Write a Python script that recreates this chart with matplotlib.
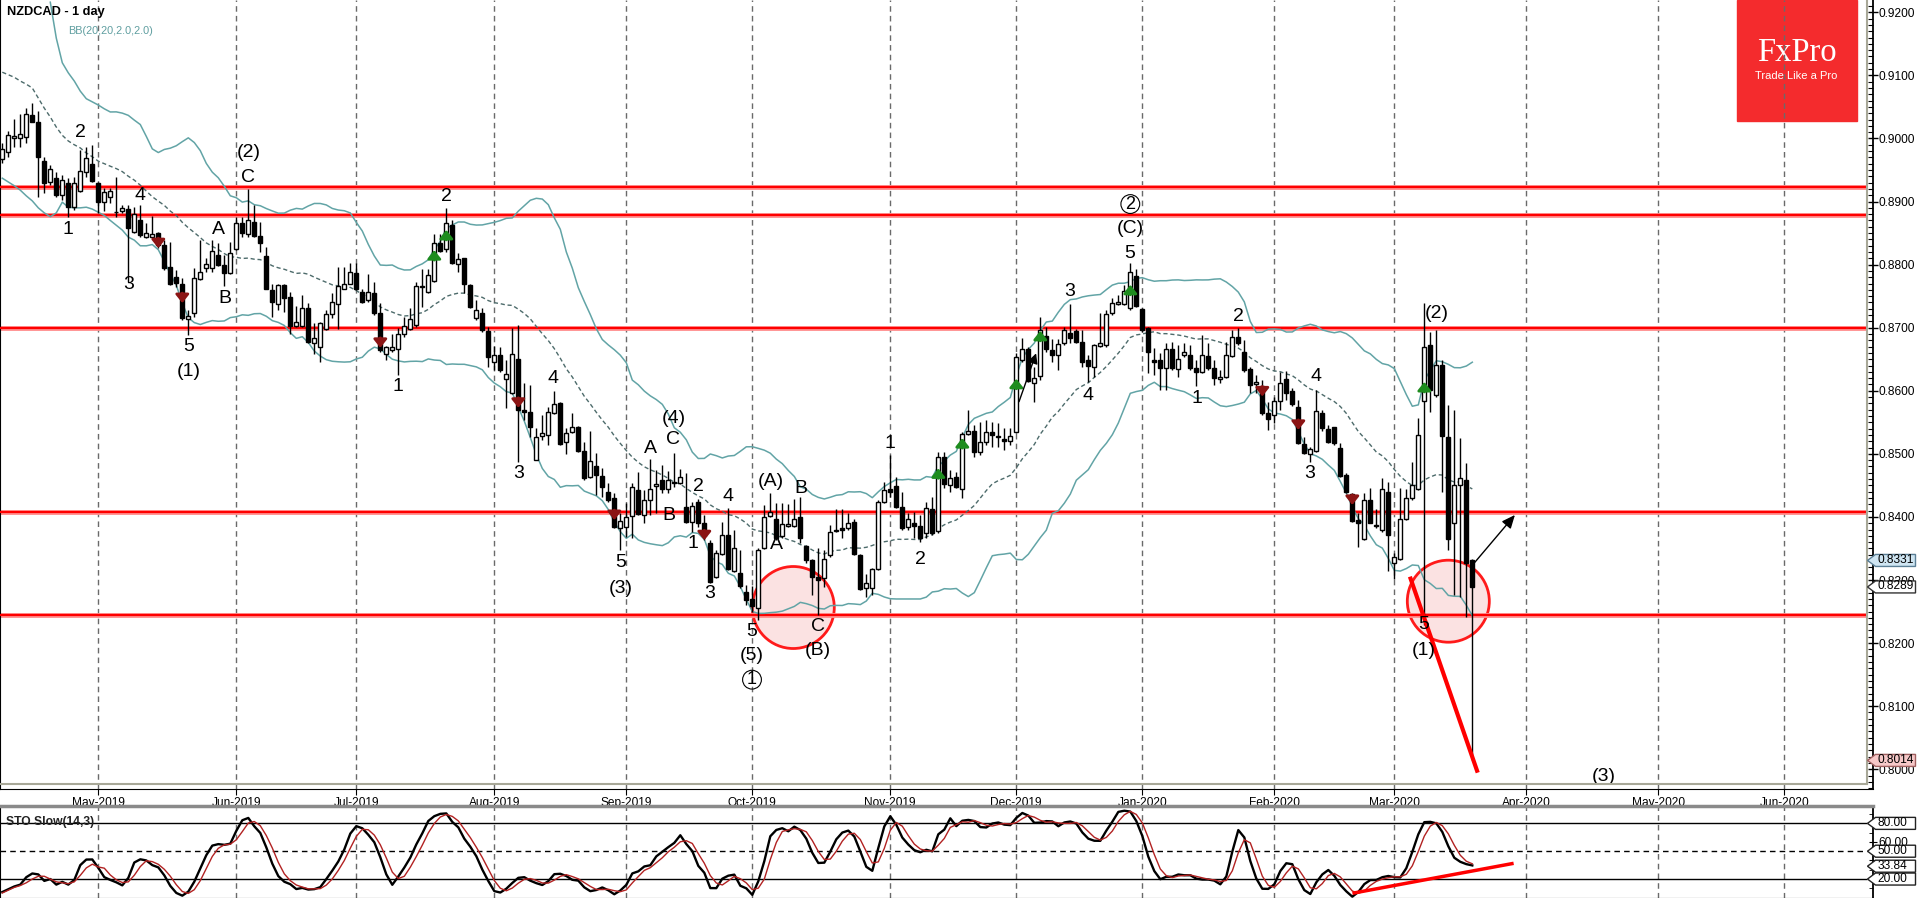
import numpy as np
import pandas as pd
import matplotlib
matplotlib.use('Agg')
import matplotlib.pyplot as plt
from matplotlib.patches import Rectangle, Ellipse, Polygon

plt.rcParams['font.family'] = ['Liberation Sans', 'DejaVu Sans']

# ---------------- data (NZDCAD daily, 9 Apr 2019 - 19 Mar 2020) ----------------
opens = [0.8967, 0.8978, 0.9001, 0.9001, 0.9003, 0.9037, 0.9026, 0.8964, 0.8931, 0.8938,
         0.8910, 0.8930, 0.8891, 0.8916, 0.8947, 0.8960, 0.8929, 0.8899, 0.8907, 0.8884,
         0.8885, 0.8888, 0.8851, 0.8871, 0.8844, 0.8844, 0.8850, 0.8831, 0.8797, 0.8781,
         0.8770, 0.8713, 0.8723, 0.8777, 0.8794, 0.8794, 0.8815, 0.8799, 0.8786, 0.8824,
         0.8866, 0.8849, 0.8868, 0.8845, 0.8814, 0.8760, 0.8738, 0.8767, 0.8748, 0.8702,
         0.8702, 0.8732, 0.8675, 0.8670, 0.8698, 0.8721, 0.8738, 0.8762, 0.8770, 0.8786,
         0.8756, 0.8744, 0.8755, 0.8724, 0.8658, 0.8664, 0.8666, 0.8690, 0.8698, 0.8704,
         0.8764, 0.8757, 0.8774, 0.8834, 0.8824, 0.8863, 0.8801, 0.8810, 0.8768, 0.8716,
         0.8724, 0.8695, 0.8645, 0.8657, 0.8619, 0.8596, 0.8651, 0.8570, 0.8567, 0.8491,
         0.8528, 0.8530, 0.8564, 0.8580, 0.8519, 0.8535, 0.8542, 0.8505, 0.8464, 0.8480,
         0.8465, 0.8439, 0.8430, 0.8382, 0.8384, 0.8401, 0.8443, 0.8403, 0.8427, 0.8449,
         0.8459, 0.8445, 0.8455, 0.8454, 0.8415, 0.8392, 0.8423, 0.8390, 0.8358, 0.8305,
         0.8342, 0.8371, 0.8315, 0.8311, 0.8281, 0.8270, 0.8255, 0.8350, 0.8401, 0.8396,
         0.8369, 0.8386, 0.8385, 0.8400, 0.8354, 0.8332, 0.8304, 0.8303, 0.8339, 0.8378,
         0.8382, 0.8382, 0.8392, 0.8340, 0.8288, 0.8288, 0.8317, 0.8423, 0.8445, 0.8449,
         0.8416, 0.8384, 0.8390, 0.8385, 0.8374, 0.8412, 0.8377, 0.8495, 0.8450, 0.8463,
         0.8445, 0.8531, 0.8536, 0.8503, 0.8519, 0.8534, 0.8529, 0.8524, 0.8521, 0.8534,
         0.8648, 0.8667, 0.8613, 0.8624, 0.8687, 0.8665, 0.8656, 0.8675, 0.8691, 0.8695,
         0.8677, 0.8649, 0.8638, 0.8671, 0.8673, 0.8723, 0.8738, 0.8738, 0.8731, 0.8782,
         0.8729, 0.8699, 0.8649, 0.8649, 0.8636, 0.8667, 0.8634, 0.8657, 0.8657, 0.8636,
         0.8629, 0.8655, 0.8636, 0.8619, 0.8622, 0.8655, 0.8685, 0.8662, 0.8635, 0.8611,
         0.8608, 0.8564, 0.8562, 0.8583, 0.8618, 0.8600, 0.8575, 0.8516, 0.8500, 0.8505,
         0.8564, 0.8539, 0.8542, 0.8509, 0.8467, 0.8436, 0.8395, 0.8365, 0.8427, 0.8387,
         0.8379, 0.8440, 0.8327, 0.8334, 0.8396, 0.8430, 0.8445, 0.8584, 0.8673, 0.8593,
         0.8641, 0.8527, 0.8391, 0.8451, 0.8459, 0.8331]
highs = [0.8993, 0.9012, 0.9031, 0.9039, 0.9048, 0.9056, 0.9044, 0.8971, 0.8958, 0.8947,
         0.8942, 0.8937, 0.8939, 0.8982, 0.8986, 0.8990, 0.8931, 0.8921, 0.8921, 0.8939,
         0.8895, 0.8895, 0.8891, 0.8895, 0.8866, 0.8877, 0.8851, 0.8839, 0.8836, 0.8791,
         0.8779, 0.8728, 0.8795, 0.8839, 0.8810, 0.8839, 0.8834, 0.8815, 0.8836, 0.8876,
         0.8876, 0.8920, 0.8895, 0.8868, 0.8828, 0.8769, 0.8769, 0.8769, 0.8757, 0.8734,
         0.8752, 0.8739, 0.8707, 0.8709, 0.8728, 0.8755, 0.8796, 0.8796, 0.8803, 0.8803,
         0.8761, 0.8785, 0.8772, 0.8739, 0.8671, 0.8690, 0.8700, 0.8717, 0.8731, 0.8772,
         0.8793, 0.8793, 0.8849, 0.8849, 0.8890, 0.8871, 0.8818, 0.8811, 0.8769, 0.8744,
         0.8731, 0.8701, 0.8671, 0.8669, 0.8649, 0.8700, 0.8704, 0.8612, 0.8609, 0.8541,
         0.8562, 0.8574, 0.8600, 0.8582, 0.8541, 0.8565, 0.8544, 0.8519, 0.8536, 0.8501,
         0.8478, 0.8454, 0.8438, 0.8406, 0.8422, 0.8454, 0.8471, 0.8443, 0.8492, 0.8474,
         0.8482, 0.8473, 0.8501, 0.8476, 0.8470, 0.8424, 0.8429, 0.8403, 0.8363, 0.8348,
         0.8392, 0.8414, 0.8379, 0.8348, 0.8292, 0.8290, 0.8351, 0.8419, 0.8438, 0.8422,
         0.8422, 0.8421, 0.8429, 0.8432, 0.8356, 0.8333, 0.8351, 0.8348, 0.8387, 0.8413,
         0.8413, 0.8406, 0.8397, 0.8341, 0.8310, 0.8319, 0.8427, 0.8455, 0.8498, 0.8463,
         0.8440, 0.8406, 0.8408, 0.8403, 0.8424, 0.8432, 0.8503, 0.8503, 0.8474, 0.8471,
         0.8535, 0.8570, 0.8546, 0.8551, 0.8554, 0.8551, 0.8549, 0.8541, 0.8541, 0.8660,
         0.8684, 0.8669, 0.8638, 0.8717, 0.8701, 0.8682, 0.8682, 0.8701, 0.8738, 0.8698,
         0.8696, 0.8657, 0.8674, 0.8723, 0.8728, 0.8747, 0.8752, 0.8768, 0.8803, 0.8793,
         0.8731, 0.8701, 0.8668, 0.8660, 0.8676, 0.8677, 0.8673, 0.8676, 0.8673, 0.8649,
         0.8688, 0.8676, 0.8649, 0.8633, 0.8677, 0.8696, 0.8700, 0.8681, 0.8638, 0.8625,
         0.8617, 0.8582, 0.8590, 0.8630, 0.8631, 0.8604, 0.8585, 0.8527, 0.8511, 0.8601,
         0.8570, 0.8546, 0.8543, 0.8517, 0.8470, 0.8438, 0.8406, 0.8438, 0.8446, 0.8413,
         0.8462, 0.8455, 0.8343, 0.8446, 0.8444, 0.8487, 0.8557, 0.8739, 0.8693, 0.8696,
         0.8649, 0.8577, 0.8570, 0.8525, 0.8486, 0.8333]
lows = [0.8961, 0.8971, 0.8986, 0.8986, 0.8993, 0.9026, 0.8907, 0.8914, 0.8926, 0.8907,
        0.8902, 0.8876, 0.8887, 0.8915, 0.8939, 0.8931, 0.8882, 0.8885, 0.8898, 0.8876,
        0.8882, 0.8772, 0.8850, 0.8844, 0.8842, 0.8844, 0.8826, 0.8791, 0.8768, 0.8764,
        0.8712, 0.8688, 0.8717, 0.8776, 0.8788, 0.8788, 0.8798, 0.8766, 0.8785, 0.8823,
        0.8844, 0.8844, 0.8843, 0.8820, 0.8761, 0.8717, 0.8728, 0.8725, 0.8690, 0.8701,
        0.8701, 0.8676, 0.8658, 0.8646, 0.8696, 0.8715, 0.8698, 0.8761, 0.8769, 0.8760,
        0.8739, 0.8741, 0.8720, 0.8661, 0.8649, 0.8661, 0.8625, 0.8685, 0.8696, 0.8701,
        0.8733, 0.8755, 0.8772, 0.8820, 0.8820, 0.8801, 0.8788, 0.8755, 0.8731, 0.8712,
        0.8693, 0.8638, 0.8633, 0.8630, 0.8573, 0.8595, 0.8487, 0.8554, 0.8527, 0.8490,
        0.8522, 0.8514, 0.8563, 0.8514, 0.8500, 0.8533, 0.8503, 0.8459, 0.8461, 0.8435,
        0.8432, 0.8424, 0.8382, 0.8348, 0.8368, 0.8367, 0.8403, 0.8390, 0.8403, 0.8406,
        0.8438, 0.8438, 0.8447, 0.8452, 0.8390, 0.8376, 0.8384, 0.8363, 0.8295, 0.8303,
        0.8340, 0.8316, 0.8313, 0.8287, 0.8260, 0.8249, 0.8237, 0.8349, 0.8400, 0.8363,
        0.8367, 0.8384, 0.8384, 0.8359, 0.8327, 0.8276, 0.8245, 0.8289, 0.8337, 0.8376,
        0.8367, 0.8379, 0.8340, 0.8284, 0.8273, 0.8276, 0.8316, 0.8422, 0.8432, 0.8414,
        0.8379, 0.8379, 0.8367, 0.8360, 0.8367, 0.8371, 0.8375, 0.8446, 0.8440, 0.8446,
        0.8430, 0.8530, 0.8495, 0.8498, 0.8514, 0.8511, 0.8511, 0.8506, 0.8514, 0.8533,
        0.8646, 0.8614, 0.8582, 0.8617, 0.8661, 0.8646, 0.8633, 0.8673, 0.8676, 0.8676,
        0.8638, 0.8614, 0.8622, 0.8669, 0.8669, 0.8720, 0.8736, 0.8736, 0.8728, 0.8733,
        0.8693, 0.8628, 0.8625, 0.8601, 0.8601, 0.8633, 0.8622, 0.8654, 0.8633, 0.8608,
        0.8628, 0.8633, 0.8609, 0.8612, 0.8620, 0.8654, 0.8673, 0.8630, 0.8596, 0.8596,
        0.8562, 0.8538, 0.8549, 0.8570, 0.8585, 0.8576, 0.8516, 0.8500, 0.8487, 0.8503,
        0.8536, 0.8517, 0.8514, 0.8463, 0.8438, 0.8392, 0.8352, 0.8363, 0.8390, 0.8383,
        0.8376, 0.8314, 0.8302, 0.8332, 0.8395, 0.8427, 0.8443, 0.8229, 0.8566, 0.8590,
        0.8440, 0.8348, 0.8276, 0.8273, 0.8241, 0.8014]
closes = [0.8984, 0.9005, 0.9004, 0.9007, 0.9038, 0.9026, 0.8971, 0.8929, 0.8951, 0.8910,
          0.8934, 0.8891, 0.8930, 0.8948, 0.8969, 0.8933, 0.8899, 0.8915, 0.8917, 0.8883,
          0.8889, 0.8858, 0.8881, 0.8847, 0.8850, 0.8848, 0.8831, 0.8794, 0.8770, 0.8771,
          0.8716, 0.8719, 0.8778, 0.8789, 0.8801, 0.8822, 0.8799, 0.8786, 0.8819, 0.8866,
          0.8850, 0.8870, 0.8845, 0.8834, 0.8762, 0.8741, 0.8767, 0.8747, 0.8702, 0.8709,
          0.8731, 0.8677, 0.8683, 0.8708, 0.8721, 0.8741, 0.8766, 0.8770, 0.8789, 0.8761,
          0.8740, 0.8756, 0.8723, 0.8664, 0.8669, 0.8670, 0.8690, 0.8702, 0.8713, 0.8766,
          0.8766, 0.8784, 0.8834, 0.8822, 0.8866, 0.8802, 0.8809, 0.8769, 0.8733, 0.8728,
          0.8696, 0.8653, 0.8657, 0.8633, 0.8626, 0.8658, 0.8570, 0.8566, 0.8542, 0.8527,
          0.8533, 0.8567, 0.8579, 0.8516, 0.8533, 0.8542, 0.8505, 0.8461, 0.8488, 0.8466,
          0.8448, 0.8427, 0.8384, 0.8393, 0.8400, 0.8448, 0.8405, 0.8427, 0.8445, 0.8452,
          0.8444, 0.8459, 0.8453, 0.8464, 0.8392, 0.8418, 0.8391, 0.8369, 0.8297, 0.8343,
          0.8371, 0.8317, 0.8350, 0.8290, 0.8268, 0.8259, 0.8348, 0.8400, 0.8408, 0.8366,
          0.8388, 0.8388, 0.8396, 0.8366, 0.8332, 0.8304, 0.8300, 0.8334, 0.8376, 0.8380,
          0.8380, 0.8391, 0.8341, 0.8285, 0.8295, 0.8317, 0.8423, 0.8443, 0.8439, 0.8415,
          0.8382, 0.8396, 0.8386, 0.8367, 0.8414, 0.8374, 0.8495, 0.8452, 0.8462, 0.8447,
          0.8531, 0.8537, 0.8503, 0.8519, 0.8534, 0.8530, 0.8526, 0.8521, 0.8529, 0.8653,
          0.8667, 0.8616, 0.8621, 0.8696, 0.8667, 0.8657, 0.8674, 0.8696, 0.8683, 0.8678,
          0.8646, 0.8639, 0.8673, 0.8675, 0.8722, 0.8739, 0.8741, 0.8758, 0.8789, 0.8734,
          0.8696, 0.8662, 0.8646, 0.8636, 0.8667, 0.8636, 0.8651, 0.8662, 0.8636, 0.8629,
          0.8656, 0.8636, 0.8620, 0.8622, 0.8657, 0.8685, 0.8675, 0.8633, 0.8609, 0.8614,
          0.8564, 0.8556, 0.8584, 0.8613, 0.8597, 0.8579, 0.8517, 0.8502, 0.8507, 0.8568,
          0.8541, 0.8518, 0.8517, 0.8465, 0.8440, 0.8394, 0.8391, 0.8427, 0.8391, 0.8386,
          0.8444, 0.8371, 0.8337, 0.8396, 0.8430, 0.8451, 0.8530, 0.8670, 0.8601, 0.8641,
          0.8528, 0.8365, 0.8451, 0.8461, 0.8327, 0.8289]

# indicator values on the first bars (history before the chart starts)
nan = float('nan')
bb_up_head = [nan] * 8 + [0.9216, 0.9159, 0.9120, 0.9104, 0.9091, 0.9075, 0.9063,
                          0.9058, 0.9053, 0.9047, 0.9042]
bb_mid_head = [0.9105, 0.9101, 0.9097, 0.9091, 0.9086, 0.9080, 0.9064, 0.9048, 0.9034, 0.9018,
               0.9005, 0.8996, 0.8990, 0.8985, 0.8977, 0.8971, 0.8964, 0.8960, 0.8956]
bb_low_head = [0.8937, 0.8931, 0.8925, 0.8918, 0.8909, 0.8901, 0.8890, 0.8882, 0.8876, 0.8882,
               0.8899, 0.8891, 0.8890, 0.8890, 0.8891, 0.8888, 0.8883, 0.8878, 0.8870]
sto_k_head = [6, 9, 12, 14, 22, 26, 25, 18, 20, 14, 17, 14, 19, 35, 41]
sto_d_head = [5, 8, 11, 13, 16, 20, 23, 23, 20, 17, 16, 15, 17, 24, 32, 36, 33]

# horizontal support / resistance levels
levels = [0.8923, 0.8879, 0.8700, 0.8408, 0.8245]

# signal arrows (bar, tip price)
sig_down = [(26, 0.8826), (30, 0.8739), (63, 0.8668), (86, 0.8573), (102, 0.8395),
            (117, 0.8363), (210, 0.8591), (216, 0.8538), (225, 0.8419)]
sig_up = [(72, 0.8823), (74, 0.8855), (156, 0.8477), (160, 0.8525), (169, 0.8619),
          (173, 0.8695), (188, 0.8768), (237, 0.8614)]

# elliott wave labels (bar position, price, text)
wave_x = [12.95, 11.0, 22.95, 21.0, 31.0, 31.0, 36.0, 37.1, 41.0, 41.0,
          65.9, 74.07, 86.0, 91.83, 103.07, 103.07, 108.07, 111.1, 111.83, 111.95,
          115.07, 116.0, 117.95, 121.0, 124.9, 124.87, 128.07, 129.07, 133.07, 136.0,
          136.0, 147.95, 153.07, 177.95, 180.9, 187.95, 188.0, 206.0, 199.07, 218.95,
          217.95, 239.03, 236.95, 236.83, 266.95]
wave_p = [0.9009, 0.8855, 0.8910, 0.8768, 0.8670, 0.8630, 0.8855, 0.8747, 0.8938, 0.8977,
          0.8607, 0.8908, 0.8469, 0.8620, 0.8327, 0.8287, 0.8509, 0.8403, 0.8522, 0.8556,
          0.8358, 0.8448, 0.8279, 0.8432, 0.8218, 0.8180, 0.8456, 0.8356, 0.8445, 0.8226,
          0.8189, 0.8517, 0.8332, 0.8757, 0.8593, 0.8818, 0.8857, 0.8717, 0.8588, 0.8623,
          0.8469, 0.8722, 0.8230, 0.8188, 0.7989]
wave_t = ['2', '1', '4', '3', '5', '(1)', 'A', 'B', 'C', '(2)',
          '1', '2', '3', '4', '5', '(3)', 'A', 'B', 'C', '(4)',
          '1', '2', '3', '4', '5', '(5)', '(A)', 'A', 'B', 'C',
          '(B)', '1', '2', '3', '4', '5', '(C)', '2', '1', '4',
          '3', '(2)', '5', '(1)', '(3)']
circled = [(124.95, 0.8142, '1'), (188.0, 0.8896, '2')]

# ---------------- figure layout in pixels ----------------
W, H = 1918, 898
fig = plt.figure(figsize=(W / 100, H / 100), dpi=100)


def box(x0, y0, x1, y1):
    return [x0 / W, 1 - y1 / H, (x1 - x0) / W, (y1 - y0) / H]


ax = fig.add_axes(box(0, 0, 1873.3, 789.3))
sto = fig.add_axes(box(0, 806, 1873.3, 898))

XL = (-0.383, 311.83)
YL = (0.79682, 0.92195)
x_edge = 310.73          # inner grey frame of the price area
y_edge = 0.79766

# trading calendar (weekdays, no 25 Dec / 1 Jan)
holidays = pd.to_datetime(['2019-12-25', '2020-01-01'])
days = pd.bdate_range('2019-04-09', '2020-07-01')
days = days[~days.isin(holidays)]
months = pd.date_range('2019-05-01', '2020-06-01', freq='MS')
month_pos = [int(np.searchsorted(days, m)) for m in months]
month_lbl = [m.strftime('%b-%Y') for m in months]

n = len(closes)
idx = np.arange(n)
o, h, l, c = (np.array(v) for v in (opens, highs, lows, closes))

# ---------------- price panel ----------------
for m in month_pos:
    ax.axvline(m, color='#6a6a6a', lw=1, dashes=(4, 3), zorder=1)

# logo
ax.add_patch(Rectangle((1736.7 / W, 1 - 120.7 / H), 120 / W, 120.7 / H, transform=fig.transFigure,
                       color='#f42b2d', zorder=0.5, clip_on=False))
ax.text(1796.5 / W, 1 - 53 / H, 'FxPro', transform=fig.transFigure, color='white',
        family='Liberation Serif', fontsize=23.5, ha='center', va='center', zorder=0.6)
ax.text(1796.5 / W, 1 - 76 / H, 'Trade Like a Pro', transform=fig.transFigure, color='white',
        fontsize=8, ha='center', va='center', zorder=0.6)

# circles around the touches of support
circle_x = [131.83, 241.0]
circle_p = [0.82564, 0.82664]
circle_r = 41
for cx, cp in zip(circle_x, circle_p):
    ax.add_patch(Ellipse((cx, cp), 2 * circle_r / 6, 2 * circle_r / 6308, fc='#fbe2e2',
                         ec='#ff1a1a', lw=2, zorder=2))

ax.hlines(levels, XL[0], x_edge, color='#ff9090', lw=3.5, zorder=2.5)
ax.hlines(levels, XL[0], x_edge, color='#ff0000', lw=1.6, zorder=2.6)

# bollinger bands (20, 2)
cs = pd.Series(c)
mid = cs.rolling(20).mean()
sd = cs.rolling(20).std(ddof=0)
upper = mid + 2 * sd
lower = mid - 2 * sd
upper.iloc[:19] = bb_up_head
mid.iloc[:19] = bb_mid_head
lower.iloc[:19] = bb_low_head
ax.plot(idx, upper, color='#62a4a6', lw=1.1, zorder=3)
ax.plot(idx, lower, color='#62a4a6', lw=1.1, zorder=3)
ax.plot(idx, mid, color='#4d6b6b', lw=1, dashes=(3, 2), zorder=3)

# candles
up = c >= o
ax.vlines(idx, l, h, color='black', lw=1, zorder=4)
ax.bar(idx[up], (c - o)[up], bottom=o[up], width=0.68, color='white', edgecolor='black',
       lw=1, zorder=5)
ax.bar(idx[~up], (o - c)[~up], bottom=c[~up], width=0.68, color='black', edgecolor='black',
       lw=1, zorder=5)

# signal arrows
step = 10 / 6308
for x, p in sig_down:
    ax.annotate('', xy=(x, p), xytext=(x, p + step),
                arrowprops=dict(arrowstyle='-|>,head_length=0.5,head_width=0.4', color='#8b1414',
                                lw=2, shrinkA=0, shrinkB=0), zorder=6)
for x, p in sig_up:
    ax.annotate('', xy=(x, p), xytext=(x, p - step),
                arrowprops=dict(arrowstyle='-|>,head_length=0.5,head_width=0.4', color='#1e8c1e',
                                lw=2, shrinkA=0, shrinkB=0), zorder=6)

# wave counts
for x, p, t in zip(wave_x, wave_p, wave_t):
    ax.text(x, p, t, fontsize=14, ha='center', va='center', zorder=7)
for x, p, t in circled:
    ax.text(x, p, t, fontsize=13, ha='center', va='center', zorder=7,
            bbox=dict(boxstyle='circle,pad=0.05', fc='none', ec='black', lw=0.8))

# trend line and projected move
ax.plot([234.6, 245.9], [0.83053, 0.79946], color='#ff0000', lw=3, zorder=6,
        solid_capstyle='butt')
ax.annotate('', xy=(252.1, 0.84031), xytext=(245.28, 0.83265),
            arrowprops=dict(arrowstyle='-|>,head_length=0.8,head_width=0.35', color='black',
                            lw=1, shrinkA=0, shrinkB=0), zorder=6)
ax.annotate('', xy=(172.3, 0.86594), xytext=(169.45, 0.85827),
            arrowprops=dict(arrowstyle='-|>,head_length=0.6,head_width=0.3', color='black',
                            lw=1, shrinkA=0, shrinkB=0), zorder=6)

# grey inner frame
ax.plot([x_edge, x_edge], [y_edge, YL[1]], color='#a8a898', lw=1.5, zorder=8, clip_on=False)
ax.plot([XL[0], x_edge], [y_edge, y_edge], color='#a8a898', lw=1.5, zorder=8, clip_on=False)

ax.set_xlim(XL)
ax.set_ylim(YL)
ax.spines['top'].set_visible(False)
for s in ('left', 'right', 'bottom'):
    ax.spines[s].set_color('black')
ax.spines['right'].set_linewidth(1.3)
ax.yaxis.tick_right()
ax.set_yticks(np.round(np.arange(0.80, 0.9201, 0.01), 2))
ax.set_yticks(np.round(np.arange(0.797, 0.922, 0.001), 3), minor=True)
ax.set_yticklabels(['%.4f' % v for v in np.arange(0.80, 0.9201, 0.01)])
ax.tick_params(axis='y', which='major', direction='inout', length=7, width=1, pad=0.5,
               labelsize=8.6)
ax.tick_params(axis='y', which='minor', direction='in', length=3.5, width=0.8)
ax.set_xticks(month_pos)
ax.set_xticklabels(month_lbl)
ax.tick_params(axis='x', direction='out', length=4, pad=1.5, labelsize=8.6)

# ---------------- stochastic panel ----------------
hs, ls = pd.Series(h), pd.Series(l)
hh = hs.rolling(14).max()
ll = ls.rolling(14).min()
k = 100 * (cs - ll).rolling(3).sum() / (hh - ll).rolling(3).sum()
d = k.rolling(3).mean()
k.iloc[:15] = sto_k_head
d.iloc[:17] = sto_d_head

for m in month_pos:
    sto.axvline(m, color='#6a6a6a', lw=1, dashes=(4, 3), zorder=1)
sto.hlines([80, 20], XL[0], x_edge, color='black', lw=1, zorder=2)
sto.hlines([50], XL[0], x_edge, color='black', lw=1, linestyles=(0, (4, 3)), zorder=2)
sto.plot(idx, k, color='black', lw=1.7, zorder=3)
sto.plot(idx, d, color='#b22222', lw=1, zorder=4)
sto.plot([225.3, 251.6], [5.0, 36.6], color='#ff0000', lw=2.5, zorder=5)

sto.set_xlim(XL)
sto.set_ylim(-0.43, 98.73)
sto.set_xticks([])
sto.yaxis.tick_right()
sto.set_yticks([20, 40, 60, 80])
sto.set_yticklabels(['', '', '60.00', ''])
sto.set_yticks([10, 30, 50, 70, 90], minor=True)
sto.tick_params(axis='y', which='major', direction='inout', length=6, pad=0.5, labelsize=8.6)
sto.tick_params(axis='y', which='minor', direction='in', length=3)
sto.spines['top'].set_color('#8a8a8a')
sto.spines['top'].set_linewidth(2.5)
sto.spines['right'].set_linewidth(1.3)

# ---------------- texts and value tags ----------------
fig.text(7 / W, 1 - 12.5 / H, 'NZDCAD - 1 day', fontsize=9.2, fontweight='bold', va='center')
fig.text(68 / W, 1 - 30.5 / H, 'BB(20,20,2.0,2.0)', fontsize=7.8, color='#5f9ea0', va='center')
fig.text(6 / W, 1 - 821.5 / H, 'STO Slow(14,3)', fontsize=8.7, fontweight='bold', va='center',
         color='#222222')


def tag(y_disp, text, fc, ec):
    pts = [(1867.5, y_disp), (1875.5, y_disp + 6), (1915.5, y_disp + 6),
           (1915.5, y_disp - 6), (1875.5, y_disp - 6)]
    pts = [(px / W, py / H) for px, py in pts]
    fig.add_artist(Polygon(pts, closed=True, transform=fig.transFigure, fc=fc, ec=ec, lw=1,
                           zorder=5))
    fig.text(1877.5 / W, (y_disp + 0.5) / H, text, fontsize=8.6, va='center', ha='left', zorder=6)


price_tags = [(0.8331, '#cfe5f2', '#5b7f96'), (0.8289, 'white', '#333333'),
              (0.8014, '#f6c8c8', '#a06060')]
for p, fc, ec in price_tags:
    tag(ax.transData.transform((0, p))[1], '%.4f' % p, fc, ec)

sto_tags = [80.00, 50.00, 20.00, 33.84]
for v in sto_tags:
    tag(sto.transData.transform((0, v))[1], '%.2f' % v, 'white', '#222222')

fig.savefig('out.png', dpi=100)
